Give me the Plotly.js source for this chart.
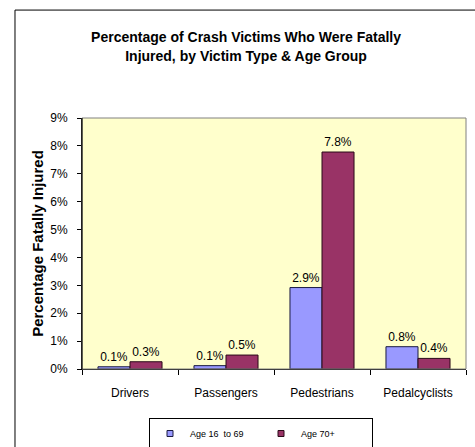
<!DOCTYPE html>
<html>
<head>
<meta charset="utf-8">
<script src="https://cdn.plot.ly/plotly-3.0.1.min.js"></script>
<style>
html,body{margin:0;padding:0;background:#fff;}
#chart{width:475px;height:447px;}
</style>
</head>
<body>
<div id="chart"></div>
<script>
var categories = ["Drivers", "Passengers", "Pedestrians", "Pedalcyclists"];
var age16to69 = [0.08, 0.12, 2.92, 0.80];
var age70plus = [0.26, 0.50, 7.78, 0.38];
var seriesNames = ["Age 16  to 69", "Age 70+"];
var seriesColors = ["#9999FF", "#993366"];
var yTickVals = [0, 1, 2, 3, 4, 5, 6, 7, 8, 9];
var yTickText = ["0%", "1%", "2%", "3%", "4%", "5%", "6%", "7%", "8%", "9%"];

var font = "Liberation Sans, Arial, sans-serif";

var traces = [
  {
    type: "bar", name: seriesNames[0], x: categories, y: age16to69, showlegend: false,
    marker: {color: seriesColors[0], line: {color: "#1a1a40", width: 1}},
    texttemplate: "%{y:.1f}%", textposition: "outside", cliponaxis: false,
    textfont: {family: font, size: 12, color: "#000"}
  },
  {
    type: "bar", name: seriesNames[1], x: categories, y: age70plus, showlegend: false,
    marker: {color: seriesColors[1], line: {color: "#2a0a18", width: 1}},
    texttemplate: "%{y:.1f}%", textposition: "outside", cliponaxis: false,
    textfont: {family: font, size: 12, color: "#000"}
  },
  {
    type: "scatter", mode: "markers", name: seriesNames[0], x: [null], y: [null],
    marker: {symbol: "square", size: 6, color: seriesColors[0], line: {color: "#1a1a40", width: 1}}
  },
  {
    type: "scatter", mode: "markers", name: seriesNames[1], x: [null], y: [null],
    marker: {symbol: "square", size: 6, color: seriesColors[1], line: {color: "#2a0a18", width: 1}}
  }
];

var layout = {
  width: 475, height: 447,
  margin: {l: 82, r: 9, t: 118, b: 78, pad: 0},
  paper_bgcolor: "#ffffff",
  plot_bgcolor: "#FFFFCC",
  font: {family: font, size: 12, color: "#000"},
  barmode: "group",
  bargap: 0.333,
  bargroupgap: 0,
  title: {
    text: "Percentage of Crash Victims Who Were Fatally<br>Injured, by Victim Type & Age Group",
    font: {family: font, size: 14, color: "#000", weight: "bold"},
    xref: "container", x: 0.518, xanchor: "center",
    yref: "container", y: 0.905, yanchor: "top"
  },
  xaxis: {
    type: "category", automargin: false,
    showline: true, linecolor: "#000", linewidth: 1,
    ticks: "outside", ticklen: 5, tickcolor: "#000", tickson: "boundaries",
    tickfont: {family: font, size: 12, color: "#000"},
    ticklabelstandoff: 13,
    showgrid: false, zeroline: false, mirror: false
  },
  yaxis: {
    range: [0, 9], automargin: false,
    tickvals: yTickVals, ticktext: yTickText,
    showline: true, linecolor: "#000", linewidth: 1,
    ticks: "outside", ticklen: 4, tickcolor: "#000",
    tickfont: {family: font, size: 12, color: "#000"},
    ticklabelstandoff: 7,
    showgrid: false, zeroline: false,
    title: {text: "Percentage Fatally Injured", font: {family: font, size: 15, color: "#000", weight: "bold"}, standoff: 3}
  },
  showlegend: true,
  legend: {
    orientation: "h",
    xref: "container", x: 261 / 475, xanchor: "center",
    yref: "container", y: (447 - 418) / 447, yanchor: "top",
    bordercolor: "#000", borderwidth: 1, bgcolor: "#fff",
    font: {family: font, size: 9, color: "#000"},
    entrywidth: 66, itemwidth: 30, traceorder: "normal"
  },
  shapes: [
    {type: "rect", xref: "paper", yref: "paper", x0: 0, x1: 1, y0: 0, y1: 1,
     line: {color: "#808080", width: 1}, fillcolor: "rgba(0,0,0,0)", layer: "above"},
    {type: "line", xref: "paper", yref: "paper", x0: 0, x1: 0, y0: 0, y1: 1,
     line: {color: "#000", width: 1}},
    {type: "rect", xref: "paper", yref: "paper", x0: -0.1745, x1: 1.2, y0: -0.5, y1: 1.430,
     line: {color: "#000", width: 1}, fillcolor: "rgba(0,0,0,0)", layer: "below"}
  ]
};

Plotly.newPlot("chart", traces, layout, {displayModeBar: false, staticPlot: true});
</script>
</body>
</html>
